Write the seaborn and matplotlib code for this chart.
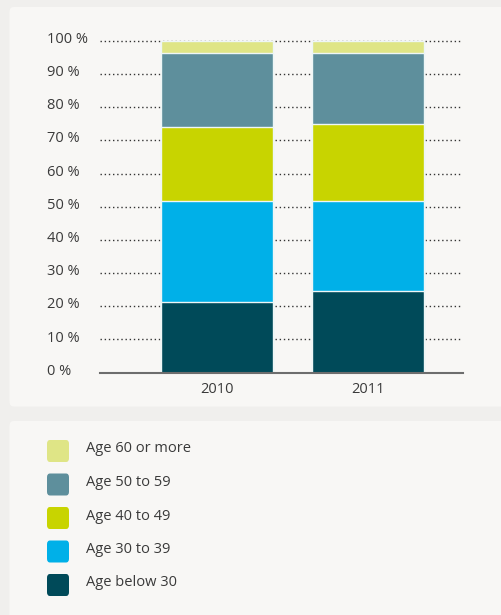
import matplotlib
matplotlib.use("Agg")
import matplotlib.pyplot as plt
import matplotlib.transforms as mtransforms
from matplotlib.patches import FancyBboxPatch
import numpy as np
import pandas as pd
import seaborn as sns

years = ["2010", "2011"]
groups = ["Age below 30", "Age 30 to 39", "Age 40 to 49", "Age 50 to 59", "Age 60 or more"]
below30 = [21.3, 24.7]
age30_39 = [30.4, 27.0]
age40_49 = [22.3, 23.3]
age50_59 = [22.3, 21.3]
age60plus = [3.7, 3.7]
colors = ["#004a59", "#00b0e8", "#c8d400", "#5e8f9c", "#dfe586"]
yticks = [0, 10, 20, 30, 40, 50, 60, 70, 80, 90, 100]
yticklabels = [f"{v} %" for v in yticks]

series = [below30, age30_39, age40_49, age50_59, age60plus]

W, H = 501, 615
fig = plt.figure(figsize=(W / 100, H / 100), dpi=100)
fig.patch.set_facecolor("#f0efed")

FONT = "Open Sans"
TXT = "#3a3a3a"

def px_box(x0, y0, x1, y1):
    return [x0 / W, 1 - y1 / H, (x1 - x0) / W, (y1 - y0) / H]

# panels
for (x0, y0, x1, y1) in [(9.5, 7, 520, 406.5), (9.5, 421, 520, 640)]:
    b = px_box(x0, y0, x1, y1)
    fig.patches.append(FancyBboxPatch((b[0], b[1]), b[2], b[3],
                                      boxstyle="round,pad=0,rounding_size=0.008",
                                      transform=fig.transFigure, facecolor="#f8f7f5",
                                      edgecolor="none", zorder=-5))

# axes: y=0 at 372.7 px, 3.32 px per percent
y0px = 372.7
ppp = 3.32
ytop = 102
ax = fig.add_axes(px_box(100, y0px - ytop * ppp, 462.7, y0px))
ax.set_zorder(2)
ax.set_facecolor("none")

cum = np.cumsum(np.array(series), axis=0)
# draw from top (largest cumulative) down so smaller overlay
for i in range(len(series) - 1, -1, -1):
    df = pd.DataFrame({"year": years, "value": cum[i]})
    sns.barplot(data=df, x="year", y="value", color=colors[i], width=0.74,
                edgecolor="#eef6f6", linewidth=1.0, saturation=1, ax=ax, zorder=3)

ax.set_ylim(0, ytop)
ax.set_xlim(-0.773, 1.624)
ax.set_xlabel("")
ax.set_ylabel("")
for s in ["top", "right", "left"]:
    ax.spines[s].set_visible(False)
ax.spines["bottom"].set_color("#6d6d6d")
ax.spines["bottom"].set_linewidth(1.5)
ax.spines["bottom"].set_zorder(5)

for v in yticks[1:]:
    ax.axhline(v, color="#333333", linestyle=(0, (1, 2)), linewidth=1.0, zorder=1)

ax.set_yticks(yticks)
ax.set_yticklabels(yticklabels, fontsize=10.5, color=TXT, family=FONT)
ax.tick_params(axis="y", length=0, pad=38.2)
for lab in ax.get_yticklabels():
    lab.set_ha("left")
    lab.set_va("baseline")
    lab.set_transform(lab.get_transform() + mtransforms.ScaledTranslation(0, -2 / 100, fig.dpi_scale_trans))
ax.tick_params(axis="x", length=0, pad=7, labelsize=10.5, labelcolor=TXT)
for lab in ax.get_xticklabels():
    lab.set_family(FONT)

# legend (manual, top entry = last group)
sq = 22
for k, i in enumerate(range(len(groups) - 1, -1, -1)):
    cy = 451 + k * 33.5
    b = px_box(47, cy - sq / 2, 47 + sq, cy + sq / 2)
    fig.patches.append(FancyBboxPatch((b[0], b[1]), b[2], b[3],
                                      boxstyle="round,pad=0,rounding_size=0.006",
                                      transform=fig.transFigure, facecolor=colors[i],
                                      edgecolor="none", zorder=1))
    fig.text(86 / W, 1 - (cy - 2) / H, groups[i], ha="left", va="center",
             family=FONT, fontsize=10.5, color=TXT)

fig.savefig("out.png", dpi=100, facecolor=fig.get_facecolor())
